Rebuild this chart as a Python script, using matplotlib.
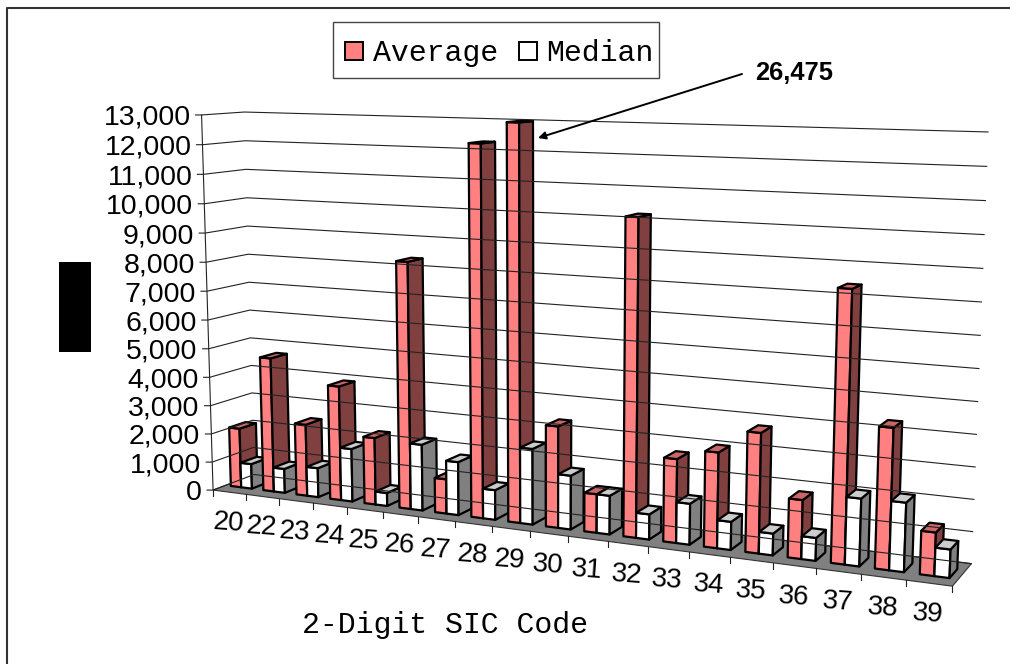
import numpy as np
import matplotlib
matplotlib.use('Agg')
import matplotlib.pyplot as plt
from matplotlib.patches import Polygon, Rectangle

# values
sic_codes = ['20', '22', '23', '24', '25', '26', '27', '28', '29', '30',
             '31', '32', '33', '34', '35', '36', '37', '38', '39']
average = [2100, 4700, 2500, 3950, 2300, 8350, 1170, 12300, 26475, 3350,
           1270, 10200, 2700, 3050, 3800, 1850, 8400, 4350, 1330]
median = [880, 850, 1020, 1830, 450, 2250, 1800, 1000, 2520, 1780,
          1270, 820, 1320, 900, 690, 720, 2100, 2130, 870]
y_ticks = list(range(0, 14000, 1000))
y_max = 13000
n = len(sic_codes)

# picture position of known corners of the chart box: slot, depth, height, px, py
box_points = [(0, 0, 0, 213, 489), (0, 0, 1, 201, 116),
              (0, 1, 0, 254, 476), (0, 1, 1, 245, 111),
              (1, 1, 0, 971, 563), (1, 1, 1, 988, 132),
              (1, 0, 0, 953, 587), (5 / 19, 0, 0, 383, 511.5),
              (10 / 19, 0, 0, 568, 536), (15 / 19, 0, 0, 773, 563)]


def fit_camera(points):
    rows = []
    for c, d, v, px, py in points:
        px, py = px / 1000, py / 1000
        rows.append([c, d, v, 1, 0, 0, 0, 0, -px * c, -px * d, -px * v, -px])
        rows.append([0, 0, 0, 0, c, d, v, 1, -py * c, -py * d, -py * v, -py])
    return np.linalg.svd(np.array(rows))[2][-1].reshape(3, 4)


camera = fit_camera(box_points)


# slot position, depth 0..1, data value -> picture pixels
def project(slot, depth, value):
    p = camera @ np.array([slot / n, depth, value / y_max, 1])
    return p[0] / p[2] * 1000, p[1] / p[2] * 1000


def draw_bar(ax, slot, left, right, value, colors):
    depth0, depth1 = 0.3, 0.7
    value = min(value, y_max)
    a = slot + left
    b = slot + right
    front = [project(a, depth0, 0), project(b, depth0, 0),
             project(b, depth0, value), project(a, depth0, value)]
    side = [project(b, depth0, 0), project(b, depth1, 0),
            project(b, depth1, value), project(b, depth0, value)]
    top = [project(a, depth0, value), project(b, depth0, value),
           project(b, depth1, value), project(a, depth1, value)]
    for pts, col in zip((front, side, top), colors):
        ax.add_patch(Polygon(pts, closed=True, facecolor=col, edgecolor='black',
                             linewidth=1.6, joinstyle='round'))


fig = plt.figure(figsize=(10.1, 6.64), dpi=100)
ax = fig.add_axes([0, 0, 1, 1])
ax.set_xlim(0, 1010)
ax.set_ylim(664, 0)
ax.axis('off')

# only top and left of the outer frame show
ax.plot([1010, 6.5, 6.5], [7.5, 7.5, 664], color='#333333', lw=1.5)
# covered axis title in the original
ax.add_patch(Rectangle((59, 262), 32, 90, facecolor='black', edgecolor='none'))

# walls
for t in y_ticks:
    x0, y0 = project(0, 0, t)
    x1, y1 = project(0, 1, t)
    x2, y2 = project(n, 1, t)
    ax.plot([x0 - 6, x0, x1, x2], [y0, y0, y1, y2], color='#222222', lw=0.8)
    ax.text(x0 - 11, y0, f'{t:,}', ha='right', va='center_baseline',
            fontsize=20.5, family='Liberation Sans', color='black')
x0, y0 = project(0, 0, 0)
x1, y1 = project(0, 0, y_max)
ax.plot([x0, x1], [y0, y1], color='#222222', lw=0.8)

# floor
floor = [project(0, 0, 0), project(n, 0, 0), project(n, 1, 0), project(0, 1, 0)]
ax.add_patch(Polygon(floor, closed=True, facecolor='#808080', edgecolor='#333333', linewidth=0.8))

# category ticks and labels
for i in range(n + 1):
    x, y = project(i, 0, 0)
    ax.plot([x, x], [y, y + 6], color='#222222', lw=0.8)
for i, code in enumerate(sic_codes):
    x, y = project(i + 0.5, 0, 0)
    ax.text(x - 1, y + 31, code, ha='center', va='center', rotation=-4,
            fontsize=20, family='Liberation Sans', color='black')

# bars, left to right so later ones cover earlier ones
avg_colors = ('#FF8080', '#804040', '#CC6666')
med_colors = ('#FFFFFF', '#808080', '#CCCCCC')
for i in range(n):
    draw_bar(ax, i, 0.16, 0.48, average[i], avg_colors)
    draw_bar(ax, i, 0.48, 0.81, median[i], med_colors)

# legend
ax.add_patch(Rectangle((333, 22), 326, 56, facecolor='white', edgecolor='#444444', linewidth=1.0))
ax.add_patch(Rectangle((344.5, 42), 18, 18, facecolor='#FF8080', edgecolor='black', linewidth=1.4))
ax.add_patch(Rectangle((518.5, 42), 18, 18, facecolor='white', edgecolor='black', linewidth=1.4))
ax.text(373, 53, 'Average', ha='left', va='center', fontsize=21.5, family='Liberation Mono', color='black')
ax.text(546, 53, 'Median', ha='left', va='center', fontsize=21.5, family='Liberation Mono', color='black')

ax.text(445, 625, '2-Digit SIC Code', ha='center', va='center', fontsize=21.5,
        family='Liberation Mono', color='black')

# clipped bar note
ax.text(755, 73, '26,475', va='center', ha='left', fontsize=18.4, fontweight='bold',
        family='Liberation Sans', color='black')
ax.annotate('', xy=(538, 138), xytext=(742, 74),
            arrowprops=dict(arrowstyle='-|>', color='black', lw=1.4, shrinkA=0, shrinkB=0, mutation_scale=11))

fig.savefig('out.png', dpi=100)
